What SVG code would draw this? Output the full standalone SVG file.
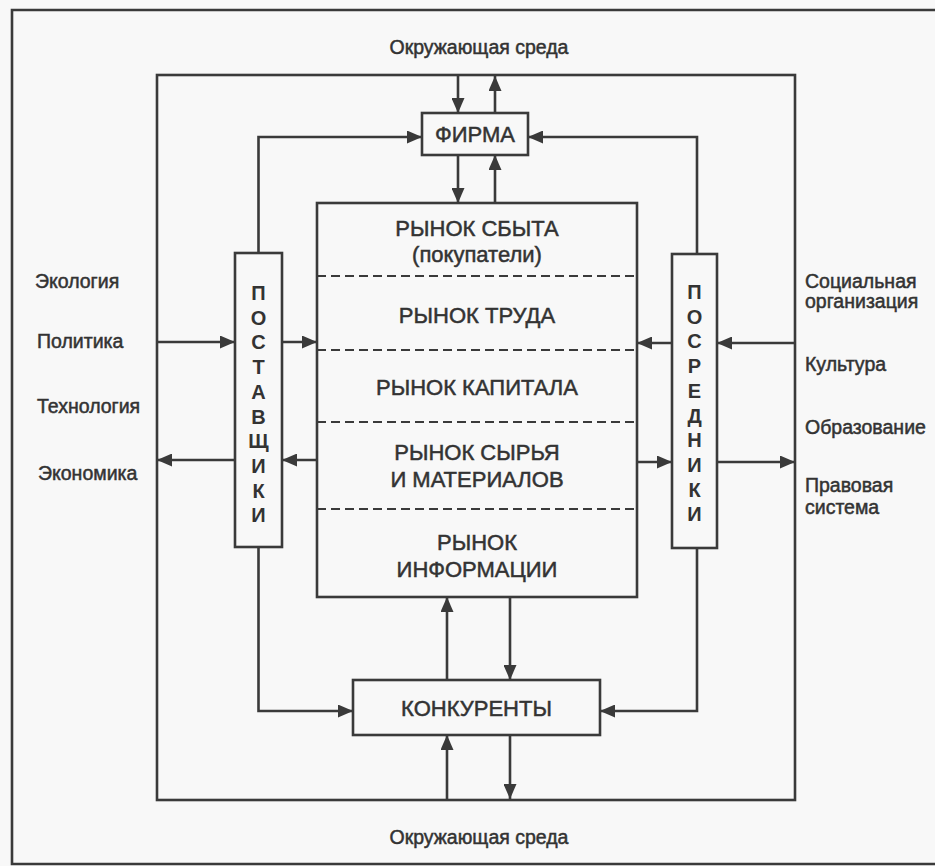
<svg xmlns="http://www.w3.org/2000/svg" width="935" height="866" viewBox="0 0 935 866">
<defs>
<marker id="ah" markerWidth="15" markerHeight="13" refX="15" refY="6.5" orient="auto" markerUnits="userSpaceOnUse">
<path d="M0,0 L15,6.5 L0,13 z" fill="#3a3a3a"/>
</marker>
</defs>
<style>
.frame{fill:none;stroke:#3a3a3a;stroke-width:2.6}
.box{fill:#f8f8f8;stroke:#3a3a3a;stroke-width:2.6}
.con{fill:none;stroke:#3a3a3a;stroke-width:2.6;marker-end:url(#ah)}
.dash{fill:none;stroke:#3a3a3a;stroke-width:2.2;stroke-dasharray:9 5}
text{font-family:"Liberation Sans",Arial,sans-serif;fill:#333;stroke:#333;stroke-width:0.5}
.big{font-size:22px;text-anchor:middle}
.side{font-size:19.5px}
.env{font-size:19.5px;text-anchor:middle}
.vert{font-size:20px;font-weight:bold;text-anchor:middle;stroke-width:0}
</style>
<rect x="0" y="0" width="935" height="866" fill="#f8f8f8"/>

<g id="outer-frame">
<path class="frame" d="M935,10 H12 V864 H935"/>
</g>
<g id="inner-frame">
<rect class="frame" x="157" y="75" width="638" height="725"/>
</g>

<g id="env-top">
<text class="env" x="479" y="54">Окружающая среда</text>
</g>
<g id="env-bottom">
<text class="env" x="479" y="844">Окружающая среда</text>
</g>

<g id="left-labels">
<text class="side" x="35" y="288">Экология</text>
<text class="side" x="37" y="348">Политика</text>
<text class="side" x="37" y="413">Технология</text>
<text class="side" x="38" y="480">Экономика</text>
</g>
<g id="right-labels">
<text class="side" x="805" y="288">Социальная</text>
<text class="side" x="805" y="308">организация</text>
<text class="side" x="805" y="371">Культура</text>
<text class="side" x="805" y="434">Образование</text>
<text class="side" x="805" y="492">Правовая</text>
<text class="side" x="805" y="514">система</text>
</g>

<g id="firma">
<rect class="box" x="422" y="113" width="106" height="42"/>
<text class="big" x="475" y="142">ФИРМА</text>
</g>

<g id="markets">
<rect class="box" x="317" y="203" width="320" height="394"/>
<line class="dash" x1="317" y1="276" x2="637" y2="276"/>
<line class="dash" x1="317" y1="350" x2="637" y2="350"/>
<line class="dash" x1="317" y1="422" x2="637" y2="422"/>
<line class="dash" x1="317" y1="509" x2="637" y2="509"/>
<text class="big" x="477" y="236">РЫНОК СБЫТА</text>
<text class="big" x="477" y="262">(покупатели)</text>
<text class="big" x="477" y="323">РЫНОК ТРУДА</text>
<text class="big" x="477" y="395">РЫНОК КАПИТАЛА</text>
<text class="big" x="477" y="460">РЫНОК СЫРЬЯ</text>
<text class="big" x="477" y="487">И МАТЕРИАЛОВ</text>
<text class="big" x="477" y="550">РЫНОК</text>
<text class="big" x="477" y="577">ИНФОРМАЦИИ</text>
</g>

<g id="postavshchiki">
<rect class="box" x="235" y="253" width="47" height="294"/>
<text class="vert" x="258.5" y="300">П</text>
<text class="vert" x="258.5" y="324.7">О</text>
<text class="vert" x="258.5" y="349.4">С</text>
<text class="vert" x="258.5" y="374.1">Т</text>
<text class="vert" x="258.5" y="398.8">А</text>
<text class="vert" x="258.5" y="423.5">В</text>
<text class="vert" x="258.5" y="448.2">Щ</text>
<text class="vert" x="258.5" y="472.9">И</text>
<text class="vert" x="258.5" y="497.6">К</text>
<text class="vert" x="258.5" y="522.3">И</text>
</g>

<g id="posredniki">
<rect class="box" x="672" y="254" width="45" height="294"/>
<text class="vert" x="694.5" y="299">П</text>
<text class="vert" x="694.5" y="323.7">О</text>
<text class="vert" x="694.5" y="348.4">С</text>
<text class="vert" x="694.5" y="373.1">Р</text>
<text class="vert" x="694.5" y="397.8">Е</text>
<text class="vert" x="694.5" y="422.5">Д</text>
<text class="vert" x="694.5" y="447.2">Н</text>
<text class="vert" x="694.5" y="471.9">И</text>
<text class="vert" x="694.5" y="496.6">К</text>
<text class="vert" x="694.5" y="521.3">И</text>
</g>

<g id="konkurenty">
<rect class="box" x="353" y="680" width="247" height="55"/>
<text class="big" x="476.5" y="716">КОНКУРЕНТЫ</text>
</g>

<g id="connectors">
<path class="con" d="M458,76 V113"/>
<path class="con" d="M495,113 V76"/>
<path class="con" d="M458,155 V203"/>
<path class="con" d="M495,203 V155"/>
<path class="con" d="M258.5,253 V137 H422"/>
<path class="con" d="M697,254 V137 H528"/>
<path class="con" d="M157,342 H235"/>
<path class="con" d="M282,342 H317"/>
<path class="con" d="M235,460 H157"/>
<path class="con" d="M317,460 H282"/>
<path class="con" d="M672,343 H637"/>
<path class="con" d="M795,343 H717"/>
<path class="con" d="M637,462 H672"/>
<path class="con" d="M717,462 H795"/>
<path class="con" d="M258.5,547 V711 H353"/>
<path class="con" d="M697,548 V711 H600"/>
<path class="con" d="M510,597 V680"/>
<path class="con" d="M447,680 V597"/>
<path class="con" d="M510,735 V799"/>
<path class="con" d="M447,799 V735"/>
</g>
</svg>
